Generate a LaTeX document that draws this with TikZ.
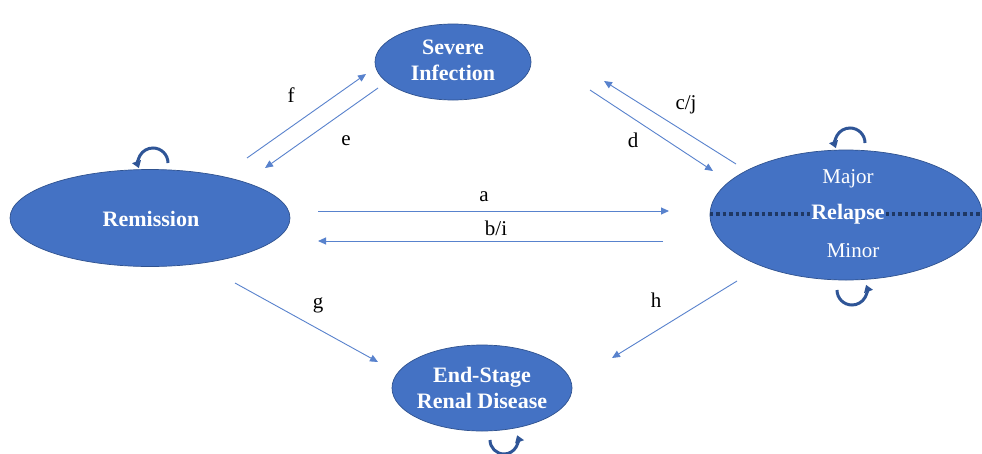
\documentclass[tikz,border=0pt]{standalone}
\usepackage{fontspec}
\setmainfont{Liberation Serif}
\usetikzlibrary{shapes.geometric,arrows.meta}
\definecolor{stateblue}{RGB}{68,114,196}
\definecolor{stateedge}{RGB}{47,82,143}
\definecolor{loopblue}{RGB}{47,85,151}
\definecolor{dotnavy}{RGB}{31,56,100}
\definecolor{flowblue}{RGB}{88,130,205}
\tikzset{
  state/.style={ellipse, fill=stateblue, draw=stateedge, line width=0.7pt, inner sep=0pt},
  statetext/.style={text=white, font=\fontsize{22}{26}\selectfont\bfseries, align=center},
  flow/.style={draw=flowblue, line width=0.9pt, -{Triangle[length=8pt,width=7pt]}},
  flowlabel/.style={font=\fontsize{21}{24}\selectfont, text=black},
  selfloop/.style={draw=loopblue, line width=3pt, -{Triangle[length=7pt,width=9pt]}}
}
\begin{document}
\begin{tikzpicture}[x=1pt,y=-1pt]
\useasboundingbox (0,0) rectangle (982,453);
\fill[white] (0,0) rectangle (982,453);

% states
\node[state, minimum width=280pt, minimum height=97pt] (rem) at (150,218) {};
\node[state, minimum width=156pt, minimum height=76pt] (sev) at (453,62) {};
\node[state, minimum width=272pt, minimum height=130pt] (rel) at (846,215) {};
\node[state, minimum width=180pt, minimum height=86pt] (esrd) at (482,388) {};

% major / minor divider
\draw[dotnavy, line width=3.2pt, dash pattern=on 3.5pt off 3pt] (rel.west) ++(0,-1) coordinate (divl) -- (rel.east |- divl) coordinate (divr);

\node[statetext] (remtxt) at (151,219) {Remission};
\node[statetext] (sevtxt) at (453,60) {Severe\\Infection};
\node[statetext] (esrdtxt) at (482,388) {End-Stage\\Renal Disease};
\node[statetext, fill=stateblue, inner sep=1pt] (reltxt) at (848,214) {Relapse};
\node[text=white, font=\fontsize{21}{24}\selectfont] (major) at (848,179) {Major};
\node[text=white, font=\fontsize{21}{24}\selectfont] (minor) at (853,251) {Minor};

% arrow end points
\coordinate (fA) at (247,158);  \coordinate (fB) at (366,74);
\coordinate (eA) at (378,88);   \coordinate (eB) at (265,168);
\coordinate (cA) at (736,164);  \coordinate (cB) at (604,81);
\coordinate (dA) at (590,90);   \coordinate (dB) at (713,171);
\coordinate (aA) at (318,211);  \coordinate (aB) at (669,211);
\coordinate (bA) at (663,241);  \coordinate (bB) at (318,241);
\coordinate (gA) at (235,283);  \coordinate (gB) at (378,362);
\coordinate (hA) at (737,281);  \coordinate (hB) at (612,358);

\draw[flow] (fA) -- (fB);
\draw[flow] (eA) -- (eB);
\draw[flow] (cA) -- (cB);
\draw[flow] (dA) -- (dB);
\draw[flow] (aA) -- (aB);
\draw[flow] (bA) -- (bB);
\draw[flow] (gA) -- (gB);
\draw[flow] (hA) -- (hB);

\node[flowlabel] (lf) at (291,95) {f};
\node[flowlabel] (le) at (346,141) {e};
\node[flowlabel] (lcj) at (686,105) {c/j};
\node[flowlabel] (ld) at (633,140) {d};
\node[flowlabel] (la) at (484,197) {a};
\node[flowlabel] (lbi) at (496,228) {b/i};
\node[flowlabel] (lg) at (318,305) {g};
\node[flowlabel] (lh) at (656,300) {h};

% self transitions
\coordinate (remloop) at (153,163);
\coordinate (reltop) at (850,143);
\coordinate (relbot) at (852,290);
\coordinate (esrdloop) at (504,440);
\draw[selfloop] ([shift={(15,0)}]remloop) arc[start angle=0, end angle=-200, radius=15];
\draw[selfloop] ([shift={(15,0)}]reltop) arc[start angle=0, end angle=-200, radius=15];
\draw[selfloop] ([shift={(-15,0)}]relbot) arc[start angle=180, end angle=-20, radius=15];
\draw[selfloop] ([shift={(-14,0)}]esrdloop) arc[start angle=180, end angle=-20, radius=14];
\end{tikzpicture}
\end{document}
